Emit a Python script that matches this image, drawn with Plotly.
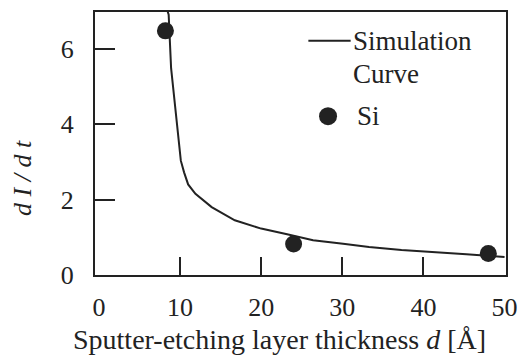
import plotly.graph_objects as go

# Simulation curve
sim_d = [8.45, 8.6, 8.9, 9.5, 10.1, 10.5, 11.0, 11.9, 13.9, 16.75, 20.0, 23.2,
         26.4, 30.1, 33.3, 37.3, 41.3, 45.3, 50.0]
sim_v = [7.0, 6.9, 5.48, 4.17, 3.03, 2.72, 2.4, 2.15, 1.80, 1.45, 1.23, 1.08,
         0.92, 0.83, 0.74, 0.66, 0.61, 0.55, 0.48]

# Si measurements
si_d = [8.2, 24.0, 48.0]
si_v = [6.47, 0.82, 0.57]

x_ticks = [0, 10, 20, 30, 40, 50]
x_minor = [10, 20, 30, 40]
y_ticks = [0, 2, 4, 6]

FONT = "'Liberation Serif', 'Times New Roman', Times, serif"
INK = "#222222"
L, R, T, B = 95, 15, 10, 86
W, H = 528, 361
PW, PH = W - L - R, H - T - B

def px(x):
    return (x - L) / PW

def py(y):
    return (H - B - y) / PH

fig = go.Figure()
fig.add_trace(go.Scatter(x=sim_d, y=sim_v, mode="lines",
                         line=dict(color=INK, width=2), showlegend=False))
fig.add_trace(go.Scatter(x=si_d, y=si_v, mode="markers",
                         marker=dict(color=INK, size=17), showlegend=False))

fig.update_layout(
    width=W, height=H,
    margin=dict(l=L, r=R, t=T, b=B),
    paper_bgcolor="white", plot_bgcolor="white",
    font=dict(family=FONT, size=26, color=INK),
    showlegend=False,
)
fig.update_xaxes(
    range=[-0.48, 50.18], tickvals=x_ticks, ticks="", showgrid=False, zeroline=False,
    showline=True, linecolor=INK, linewidth=2, mirror=True,
    tickfont=dict(family=FONT, size=26, color=INK),
    ticklabelstandoff=8,
    minor=dict(tickvals=x_minor, ticks="inside", ticklen=18, tickwidth=1.5, tickcolor=INK),
)
fig.update_yaxes(
    range=[0, 6.97], tickvals=y_ticks, ticks="inside", ticklen=20, tickwidth=1.5,
    tickcolor=INK, showgrid=False, zeroline=False,
    showline=True, linecolor=INK, linewidth=2, mirror=True,
    tickfont=dict(family=FONT, size=26, color=INK),
    ticklabelstandoff=14,
)

# Axis titles
fig.add_annotation(text="Sputter-etching layer thickness <i>d</i> [Å]",
                   xref="paper", yref="paper", x=px(71), y=py(340),
                   xanchor="left", yanchor="middle", showarrow=False,
                   font=dict(family=FONT, size=28, color=INK))
fig.add_annotation(text="<i>d I / d t</i>", textangle=-90,
                   xref="paper", yref="paper", x=px(22), y=py(177),
                   xanchor="center", yanchor="middle", showarrow=False,
                   font=dict(family=FONT, size=26, color=INK))

# Legend
fig.add_shape(type="line", xref="paper", yref="paper",
              x0=px(312), x1=px(355), y0=py(39), y1=py(39),
              line=dict(color=INK, width=2))
fig.add_annotation(text="Simulation", xref="paper", yref="paper",
                   x=px(355), y=py(39), xanchor="left", yanchor="middle",
                   showarrow=False, font=dict(family=FONT, size=27, color=INK))
fig.add_annotation(text="Curve", xref="paper", yref="paper",
                   x=px(355), y=py(72), xanchor="left", yanchor="middle",
                   showarrow=False, font=dict(family=FONT, size=27, color=INK))
fig.add_shape(type="circle", xref="paper", yref="paper",
              xsizemode="pixel", ysizemode="pixel",
              xanchor=px(332), yanchor=py(115),
              x0=-9, x1=9, y0=-9, y1=9,
              fillcolor=INK, line=dict(color=INK, width=0))
fig.add_annotation(text="Si", xref="paper", yref="paper",
                   x=px(359), y=py(115), xanchor="left", yanchor="middle",
                   showarrow=False, font=dict(family=FONT, size=27, color=INK))

fig.write_html("out.html")
